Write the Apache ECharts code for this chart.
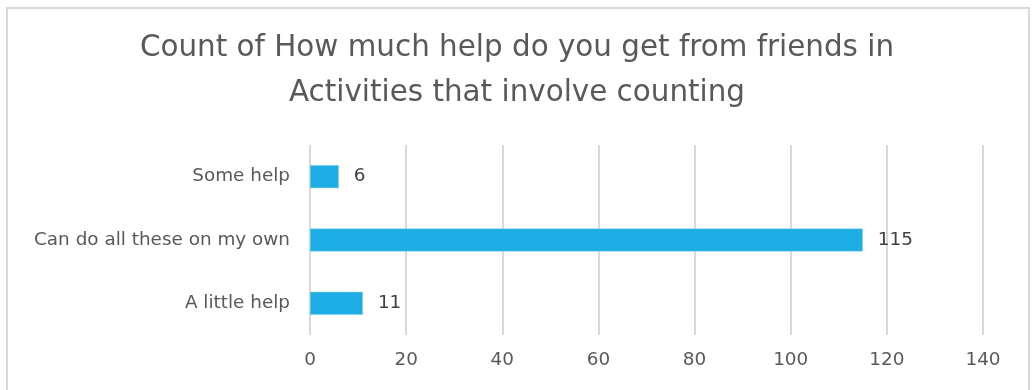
<!DOCTYPE html>
<html>
<head>
<meta charset="utf-8">
<script src="https://cdn.jsdelivr.net/npm/echarts@6/dist/echarts.min.js"></script>
<style>
html,body{margin:0;padding:0;background:#fff;}
#frame{position:absolute;left:6px;top:7px;width:1024px;height:400px;border:2px solid #d9d9d9;box-sizing:border-box;}
#chart{position:absolute;left:0;top:0;width:1034px;height:390px;}
</style>
</head>
<body>
<div id="frame"></div>
<div id="chart"></div>
<script>
const titleText = "Count of How much help do you get from friends in\nActivities that involve counting";
const categories = ["A little help", "Can do all these on my own", "Some help"];
const values = [11, 115, 6];
const xTicks = [0, 20, 40, 60, 80, 100, 120, 140];

const chart = echarts.init(document.getElementById('chart'), null, {renderer: 'canvas'});
const fontFam = "'DejaVu Sans', sans-serif";
chart.setOption({
  animation: false,
  title: {
    text: titleText,
    left: 'center',
    top: 21,
    textStyle: {fontFamily: fontFam, fontSize: 29.4, fontWeight: 'normal', color: '#595959', lineHeight: 45}
  },
  grid: {left: 310, right: 51, top: 145, bottom: 55, containLabel: false},
  xAxis: {
    type: 'value',
    min: xTicks[0],
    max: xTicks[xTicks.length - 1],
    interval: 20,
    axisLine: {show: false},
    axisTick: {show: false},
    splitLine: {show: true, lineStyle: {color: '#d9d9d9', width: 2}},
    axisLabel: {fontFamily: fontFam, fontSize: 18.4, color: '#595959', margin: 16}
  },
  yAxis: {
    type: 'category',
    data: categories,
    axisLine: {show: false},
    axisTick: {show: false},
    axisLabel: {fontFamily: fontFam, fontSize: 18.4, color: '#595959', margin: 20}
  },
  series: [{
    type: 'bar',
    data: values,
    barWidth: 23,
    itemStyle: {color: '#1DACE3', borderColor: '#8fd3ef', borderWidth: 0.5},
    label: {show: true, position: 'right', distance: 15, fontFamily: fontFam, fontSize: 18.4, color: '#404040'}
  }]
});
</script>
</body>
</html>
